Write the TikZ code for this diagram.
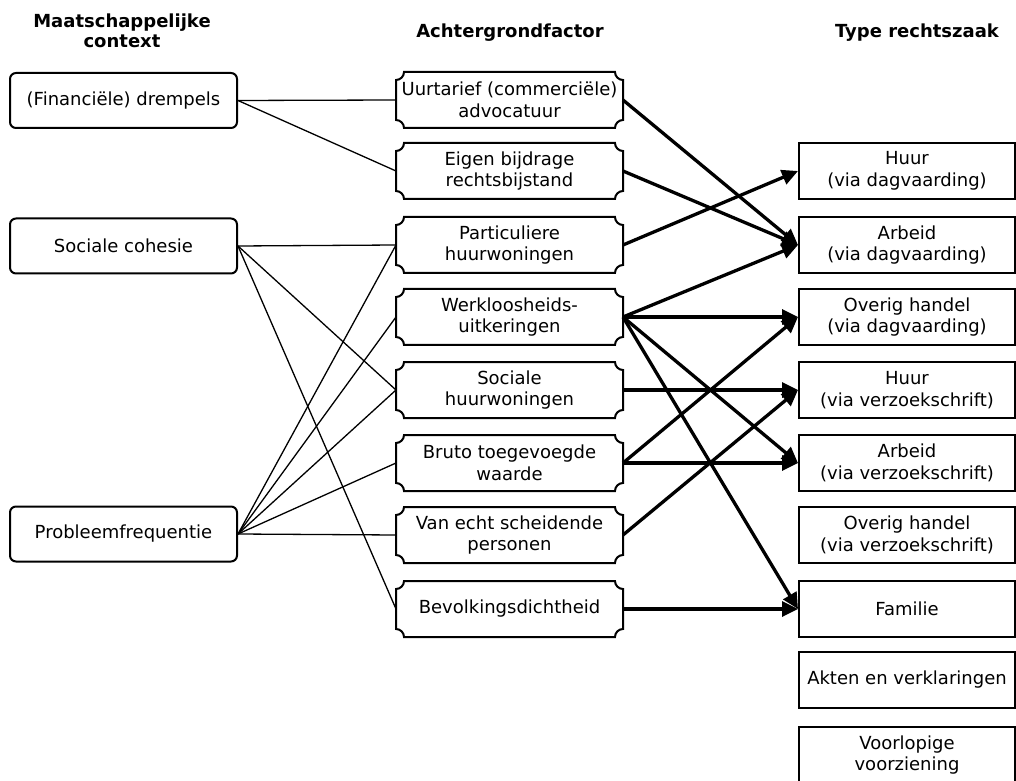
\documentclass[tikz,border=0pt]{standalone}
\usepackage{fontspec}
\setmainfont{DejaVu Sans}
\usetikzlibrary{arrows.meta}
\begin{document}
\begin{tikzpicture}[x=1pt,y=1pt,
  txt/.style={font=\fontsize{18}{21.5}\selectfont, align=center, text=black},
  lbox/.style={txt, draw, line width=2pt, rounded corners=6pt, minimum width=227pt, minimum height=55pt, inner sep=0pt},
  mbox/.style={txt, minimum width=227pt, minimum height=56pt, inner sep=0pt, outer sep=0pt},
  rbox/.style={txt, draw, line width=2pt, minimum width=216pt, minimum height=56pt, inner sep=0pt},
  hdr/.style={font=\fontsize{18}{20}\selectfont\bfseries, align=center},
  link/.style={line width=1.3pt},
  bigarrow/.style={line width=3.3pt, -{Triangle[length=16pt,width=15pt]}},
  notch/.style={line width=2pt}
  ]
\useasboundingbox (0,0) rectangle (1016,780);

% headers
\node[hdr] (h1) at (122,749) {Maatschappelijke\\context};
\node[hdr] (h2) at (510,747) {Achtergrondfactor};
\node[hdr] (h3) at (917,747) {Type rechtszaak};

% left column
\node[lbox] (l1) at (123.5,679.5) {(Financiële) drempels};
\node[lbox] (l2) at (123.5,534) {Sociale cohesie};
\node[lbox] (l3) at (123.5,246) {Probleemfrequentie};

% middle column
\node[mbox] (m1) at (509.5,680) {Uurtarief (commerciële)\\advocatuur};
\node[mbox] (m2) at (509.5,609) {Eigen bijdrage\\rechtsbijstand};
\node[mbox] (m3) at (509.5,535) {Particuliere\\huurwoningen};
\node[mbox] (m4) at (509.5,463) {Werkloosheids-\\uitkeringen};
\node[mbox] (m5) at (509.5,390) {Sociale\\huurwoningen};
\node[mbox] (m6) at (509.5,317) {Bruto toegevoegde\\waarde};
\node[mbox] (m7) at (509.5,245) {Van echt scheidende\\personen};
\node[mbox] (m8) at (509.5,171) {Bevolkingsdichtheid};

\foreach \i in {1,...,8}{
  \draw[notch] ([xshift=8pt]m\i.north west) -- ([xshift=-8pt]m\i.north east)
    arc[start angle=180,end angle=270,radius=8pt] -- ([yshift=8pt]m\i.south east)
    arc[start angle=90,end angle=180,radius=8pt] -- ([xshift=8pt]m\i.south west)
    arc[start angle=0,end angle=90,radius=8pt] -- ([yshift=-8pt]m\i.north west)
    arc[start angle=270,end angle=360,radius=8pt] -- cycle;
}

% right column
\node[rbox] (r1) at (907,609) {Huur\\(via dagvaarding)};
\node[rbox] (r2) at (907,535) {Arbeid\\(via dagvaarding)};
\node[rbox] (r3) at (907,463) {Overig handel\\(via dagvaarding)};
\node[rbox] (r4) at (907,390) {Huur\\(via verzoekschrift)};
\node[rbox] (r5) at (907,317) {Arbeid\\(via verzoekschrift)};
\node[rbox] (r6) at (907,245) {Overig handel\\(via verzoekschrift)};
\node[rbox] (r7) at (907,171) {Familie};
\node[rbox] (r8) at (907,100) {Akten en verklaringen};
\node[rbox] (r9) at (907,25) {Voorlopige\\voorziening};

% thin links
\draw[link] (l1.east) -- (m1.west);
\draw[link] (l1.east) -- (m2.west);
\draw[link] (l2.east) -- (m3.west);
\draw[link] (l2.east) -- (m5.west);
\draw[link] (l2.east) -- (m8.west);
\draw[link] (l3.east) -- (m3.west);
\draw[link] (l3.east) -- (m4.west);
\draw[link] (l3.east) -- (m5.west);
\draw[link] (l3.east) -- (m6.west);
\draw[link] (l3.east) -- (m7.west);

% thick arrows
\draw[bigarrow] (m1.east) -- (r2.west);
\draw[bigarrow] (m2.east) -- (r2.west);
\draw[bigarrow] (m3.east) -- (r1.west);
\draw[bigarrow] (m4.east) -- (r2.west);
\draw[bigarrow] (m4.east) -- (r3.west);
\draw[bigarrow] (m4.east) -- (r5.west);
\draw[bigarrow] (m4.east) -- (r7.west);
\draw[bigarrow] (m5.east) -- (r4.west);
\draw[bigarrow] (m6.east) -- (r3.west);
\draw[bigarrow] (m6.east) -- (r5.west);
\draw[bigarrow] (m7.east) -- (r4.west);
\draw[bigarrow] (m8.east) -- (r7.west);
\end{tikzpicture}
\end{document}
